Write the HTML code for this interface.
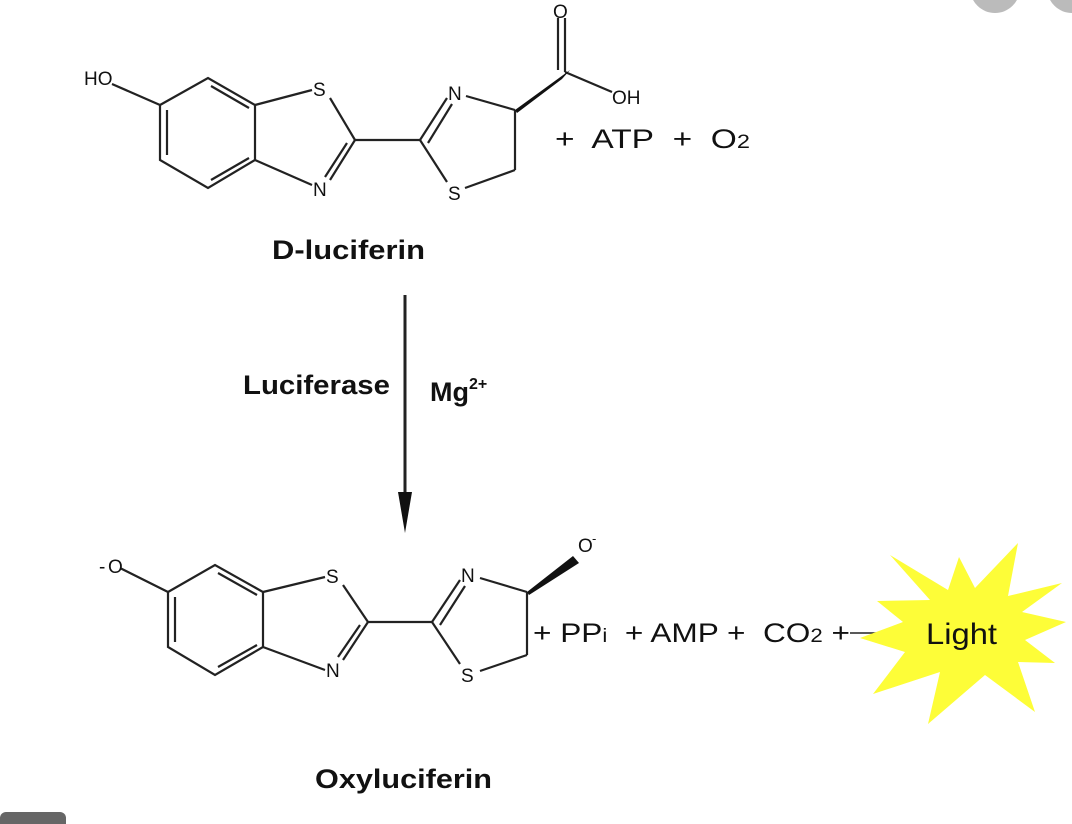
<!DOCTYPE html>
<html><head><meta charset="utf-8"><style>
html,body{margin:0;padding:0;background:#fff;}
svg{display:block;}
text{font-family:"Liberation Sans",sans-serif;fill:#111;}
</style></head><body>
<svg width="1072" height="824" viewBox="0 0 1072 824">
<g stroke="#222" stroke-width="2.2" fill="none">
<line x1="112" y1="84" x2="160" y2="105"/>
<polyline points="160,105 208,78 255,105 255,160 208,188 160,160 160,105"/>
<line x1="167" y1="110" x2="167" y2="155"/>
<line x1="211" y1="86" x2="249" y2="108"/>
<line x1="211" y1="180" x2="249" y2="158"/>
<line x1="255" y1="105" x2="312" y2="90"/>
<line x1="330" y1="98" x2="355" y2="140"/>
<line x1="355" y1="140" x2="330" y2="180"/>
<line x1="347" y1="143" x2="325" y2="177"/>
<line x1="255" y1="160" x2="312" y2="185"/>
<line x1="355" y1="140" x2="420" y2="140"/>
<line x1="420" y1="140" x2="447" y2="98"/>
<line x1="428" y1="143" x2="452" y2="104"/>
<line x1="420" y1="140" x2="447" y2="182"/>
<line x1="466" y1="96" x2="515" y2="110"/>
<line x1="515" y1="110" x2="515" y2="170"/>
<line x1="515" y1="170" x2="465" y2="188"/>
<line x1="565" y1="72" x2="565" y2="18"/>
<line x1="558" y1="70" x2="558" y2="18"/>
<line x1="565" y1="72" x2="612" y2="92"/>
<line x1="120" y1="568" x2="168" y2="592"/>
<polyline points="168,592 215,565 263,592 263,647 215,675 168,647 168,592"/>
<line x1="175" y1="597" x2="175" y2="642"/>
<line x1="218" y1="573" x2="257" y2="595"/>
<line x1="218" y1="667" x2="257" y2="645"/>
<line x1="263" y1="592" x2="325" y2="577"/>
<line x1="343" y1="585" x2="368" y2="622"/>
<line x1="368" y1="622" x2="343" y2="660"/>
<line x1="360" y1="625" x2="338" y2="657"/>
<line x1="263" y1="647" x2="325" y2="670"/>
<line x1="368" y1="622" x2="432" y2="622"/>
<line x1="432" y1="622" x2="460" y2="580"/>
<line x1="440" y1="625" x2="465" y2="586"/>
<line x1="432" y1="622" x2="460" y2="664"/>
<line x1="480" y1="578" x2="527" y2="592"/>
<line x1="527" y1="592" x2="527" y2="655"/>
<line x1="527" y1="655" x2="480" y2="671"/>
<line x1="405" y1="295" x2="405" y2="500" stroke-width="3"/>
<line x1="850" y1="633" x2="876" y2="633" stroke-width="1.5"/>
</g>
<polygon points="515,110 570,70 562,79 517,113" fill="#111"/>
<polygon points="527,592 573,556 579,563 529,595" fill="#111"/>
<polygon points="398,492 412,492 405,533" fill="#111"/>
<polygon points="959,557 975,588 1018,543 1008,596 1062,583 1022,612 1066,622 1025,640 1055,663 1018,662 1035,712 985,675 928,724 940,672 873,694 905,652 860,638 903,622 877,601 930,600 890,555 948,590" fill="#fdfd38"/>
<g font-size="19">
<text x="84" y="85">HO</text>
<text x="313" y="96">S</text>
<text x="313" y="196">N</text>
<text x="448" y="100">N</text>
<text x="448" y="200">S</text>
<text x="553" y="18">O</text>
<text x="612" y="104">OH</text>
<text x="99" y="573">-</text><text x="108" y="573">O</text>
<text x="326" y="583">S</text>
<text x="326" y="677">N</text>
<text x="461" y="582">N</text>
<text x="461" y="682">S</text>
<text x="578" y="552">O</text><text x="592" y="543" font-size="13">-</text>
</g>
<g font-size="27">
<text x="555" y="148" textLength="195" lengthAdjust="spacingAndGlyphs">+&#160; ATP&#160; +&#160; O<tspan font-size="19">2</tspan></text>
<text x="533" y="642" textLength="317" lengthAdjust="spacingAndGlyphs">+ PP<tspan font-size="19">i</tspan>&#160; + AMP +&#160; CO<tspan font-size="19">2</tspan> +</text>
</g>
<g font-weight="bold" font-size="27">
<text x="272" y="259" textLength="153" lengthAdjust="spacingAndGlyphs">D-luciferin</text>
<text x="243" y="394" textLength="147" lengthAdjust="spacingAndGlyphs">Luciferase</text>
<text x="430" y="401">Mg<tspan font-size="16" dy="-12">2+</tspan></text>
<text x="315" y="788" textLength="177" lengthAdjust="spacingAndGlyphs">Oxyluciferin</text>
</g>
<text x="926" y="644" font-size="30" textLength="71" lengthAdjust="spacingAndGlyphs">Light</text>
<circle cx="995" cy="-12" r="25" fill="#bbb"/>
<circle cx="1072" cy="-12" r="25" fill="#bbb"/>
<rect x="0" y="812" width="66" height="20" rx="6" fill="#666"/>
</svg>
</body></html>
